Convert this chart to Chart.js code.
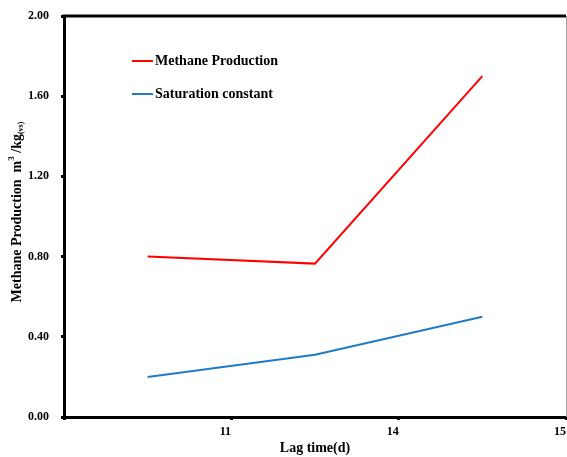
<!DOCTYPE html>
<html>
<head>
<meta charset="utf-8">
<script src="https://cdn.jsdelivr.net/npm/chart.js@4.4.1/dist/chart.umd.min.js"></script>
<style>
  html, body { margin: 0; padding: 0; background: #fff; }
  #wrap { width: 567px; height: 457px; position: relative; }
</style>
</head>
<body>
<div id="wrap"><canvas id="chart"></canvas></div>
<script>
const lagLabels = ['11', '14', '15'];
const methaneProduction = [0.80, 0.765, 1.70];
const saturationConstant = [0.20, 0.31, 0.50];
const yTicks = [0, 0.4, 0.8, 1.2, 1.6, 2.0];

const FONT = '"Liberation Serif", "Times New Roman", serif';

// points sit midway between the tick marks, as in the original
const toPoints = vals => vals.map((v, i) => ({ x: i + 0.5, y: v }));

const frame = {
    id: 'frame',
    afterDraw(chart) {
        const { ctx, chartArea: a } = chart;
        ctx.save();
        ctx.strokeStyle = '#000';
        ctx.lineWidth = 3;
        ctx.beginPath();
        ctx.moveTo(a.left - 1.5, a.top);
        ctx.lineTo(a.right, a.top);
        ctx.stroke();
        ctx.strokeStyle = '#a0a0a0';
        ctx.lineWidth = 1;
        ctx.beginPath();
        ctx.moveTo(a.right + 0.5, a.top);
        ctx.lineTo(a.right + 0.5, a.bottom);
        ctx.stroke();

        // legend inside plot
        const items = [
            { text: 'Methane Production', color: '#ff0000', y: 61 },
            { text: 'Saturation constant', color: '#1f7bc8', y: 94 }
        ];
        ctx.font = 'bold 14px ' + FONT;
        ctx.textBaseline = 'middle';
        ctx.textAlign = 'left';
        items.forEach(it => {
            ctx.strokeStyle = it.color;
            ctx.lineWidth = 2;
            ctx.beginPath();
            ctx.moveTo(132, it.y);
            ctx.lineTo(153, it.y);
            ctx.stroke();
            ctx.fillStyle = '#000';
            ctx.fillText(it.text, 155, it.y);
        });

        // y axis title with superscript / subscript
        ctx.translate(17, 212);
        ctx.rotate(-Math.PI / 2);
        const parts = [
            { t: 'Methane Production  m', size: 14, dy: 0 },
            { t: '3', size: 9, dy: -5 },
            { t: ' /kg', size: 14, dy: 0 },
            { t: '(vs)', size: 8, dy: 4 }
        ];
        let total = 0;
        parts.forEach(p => { ctx.font = 'bold ' + p.size + 'px ' + FONT; total += ctx.measureText(p.t).width; });
        let x = -total / 2;
        parts.forEach(p => {
            ctx.font = 'bold ' + p.size + 'px ' + FONT;
            ctx.fillText(p.t, x, p.dy);
            x += ctx.measureText(p.t).width;
        });
        ctx.restore();
    }
};

new Chart(document.getElementById('chart'), {
    type: 'line',
    data: {
        datasets: [
            { label: 'Methane Production', data: toPoints(methaneProduction), borderColor: '#ff0000', backgroundColor: '#ff0000', borderWidth: 2, pointRadius: 0, tension: 0 },
            { label: 'Saturation constant', data: toPoints(saturationConstant), borderColor: '#1f7bc8', backgroundColor: '#1f7bc8', borderWidth: 2, pointRadius: 0, tension: 0 }
        ]
    },
    options: {
        responsive: true,
        maintainAspectRatio: false,
        animation: false,
        layout: { padding: { top: 16, right: 1, left: 0, bottom: 0 } },
        plugins: { legend: { display: false }, tooltip: { enabled: false } },
        scales: {
            x: {
                type: 'linear',
                min: 0,
                max: lagLabels.length,
                afterBuildTicks: s => { s.ticks = lagLabels.map((_, i) => ({ value: i + 1 })).concat([{ value: 0 }]); },
                afterFit: s => { s.height = 40; s.paddingRight = 0; s.paddingLeft = 0; },
                ticks: {
                    callback: v => (v >= 1 ? lagLabels[v - 1] : ''),
                    color: '#000',
                    font: { family: FONT, size: 12, weight: 'bold' },
                    padding: 5,
                    labelOffset: -6,
                    maxRotation: 0
                },
                grid: { drawOnChartArea: false, tickLength: 3, lineWidth: 3, color: '#000' },
                border: { width: 3, color: '#000' },
                title: { display: true, text: 'Lag time(d)', color: '#000', font: { family: FONT, size: 14, weight: 'bold' }, padding: { top: 3, bottom: 0 } }
            },
            y: {
                min: 0,
                max: 2,
                afterBuildTicks: s => { s.ticks = yTicks.map(v => ({ value: v })); },
                afterFit: s => { s.width = 64; s.paddingTop = 0; s.paddingBottom = 0; },
                ticks: {
                    callback: v => v.toFixed(2),
                    color: '#000',
                    font: { family: FONT, size: 12, weight: 'bold' },
                    padding: 12
                },
                grid: { drawOnChartArea: false, tickLength: 3, lineWidth: 3, color: '#000' },
                border: { width: 3, color: '#000' }
            }
        }
    },
    plugins: [frame]
});
</script>
</body>
</html>
